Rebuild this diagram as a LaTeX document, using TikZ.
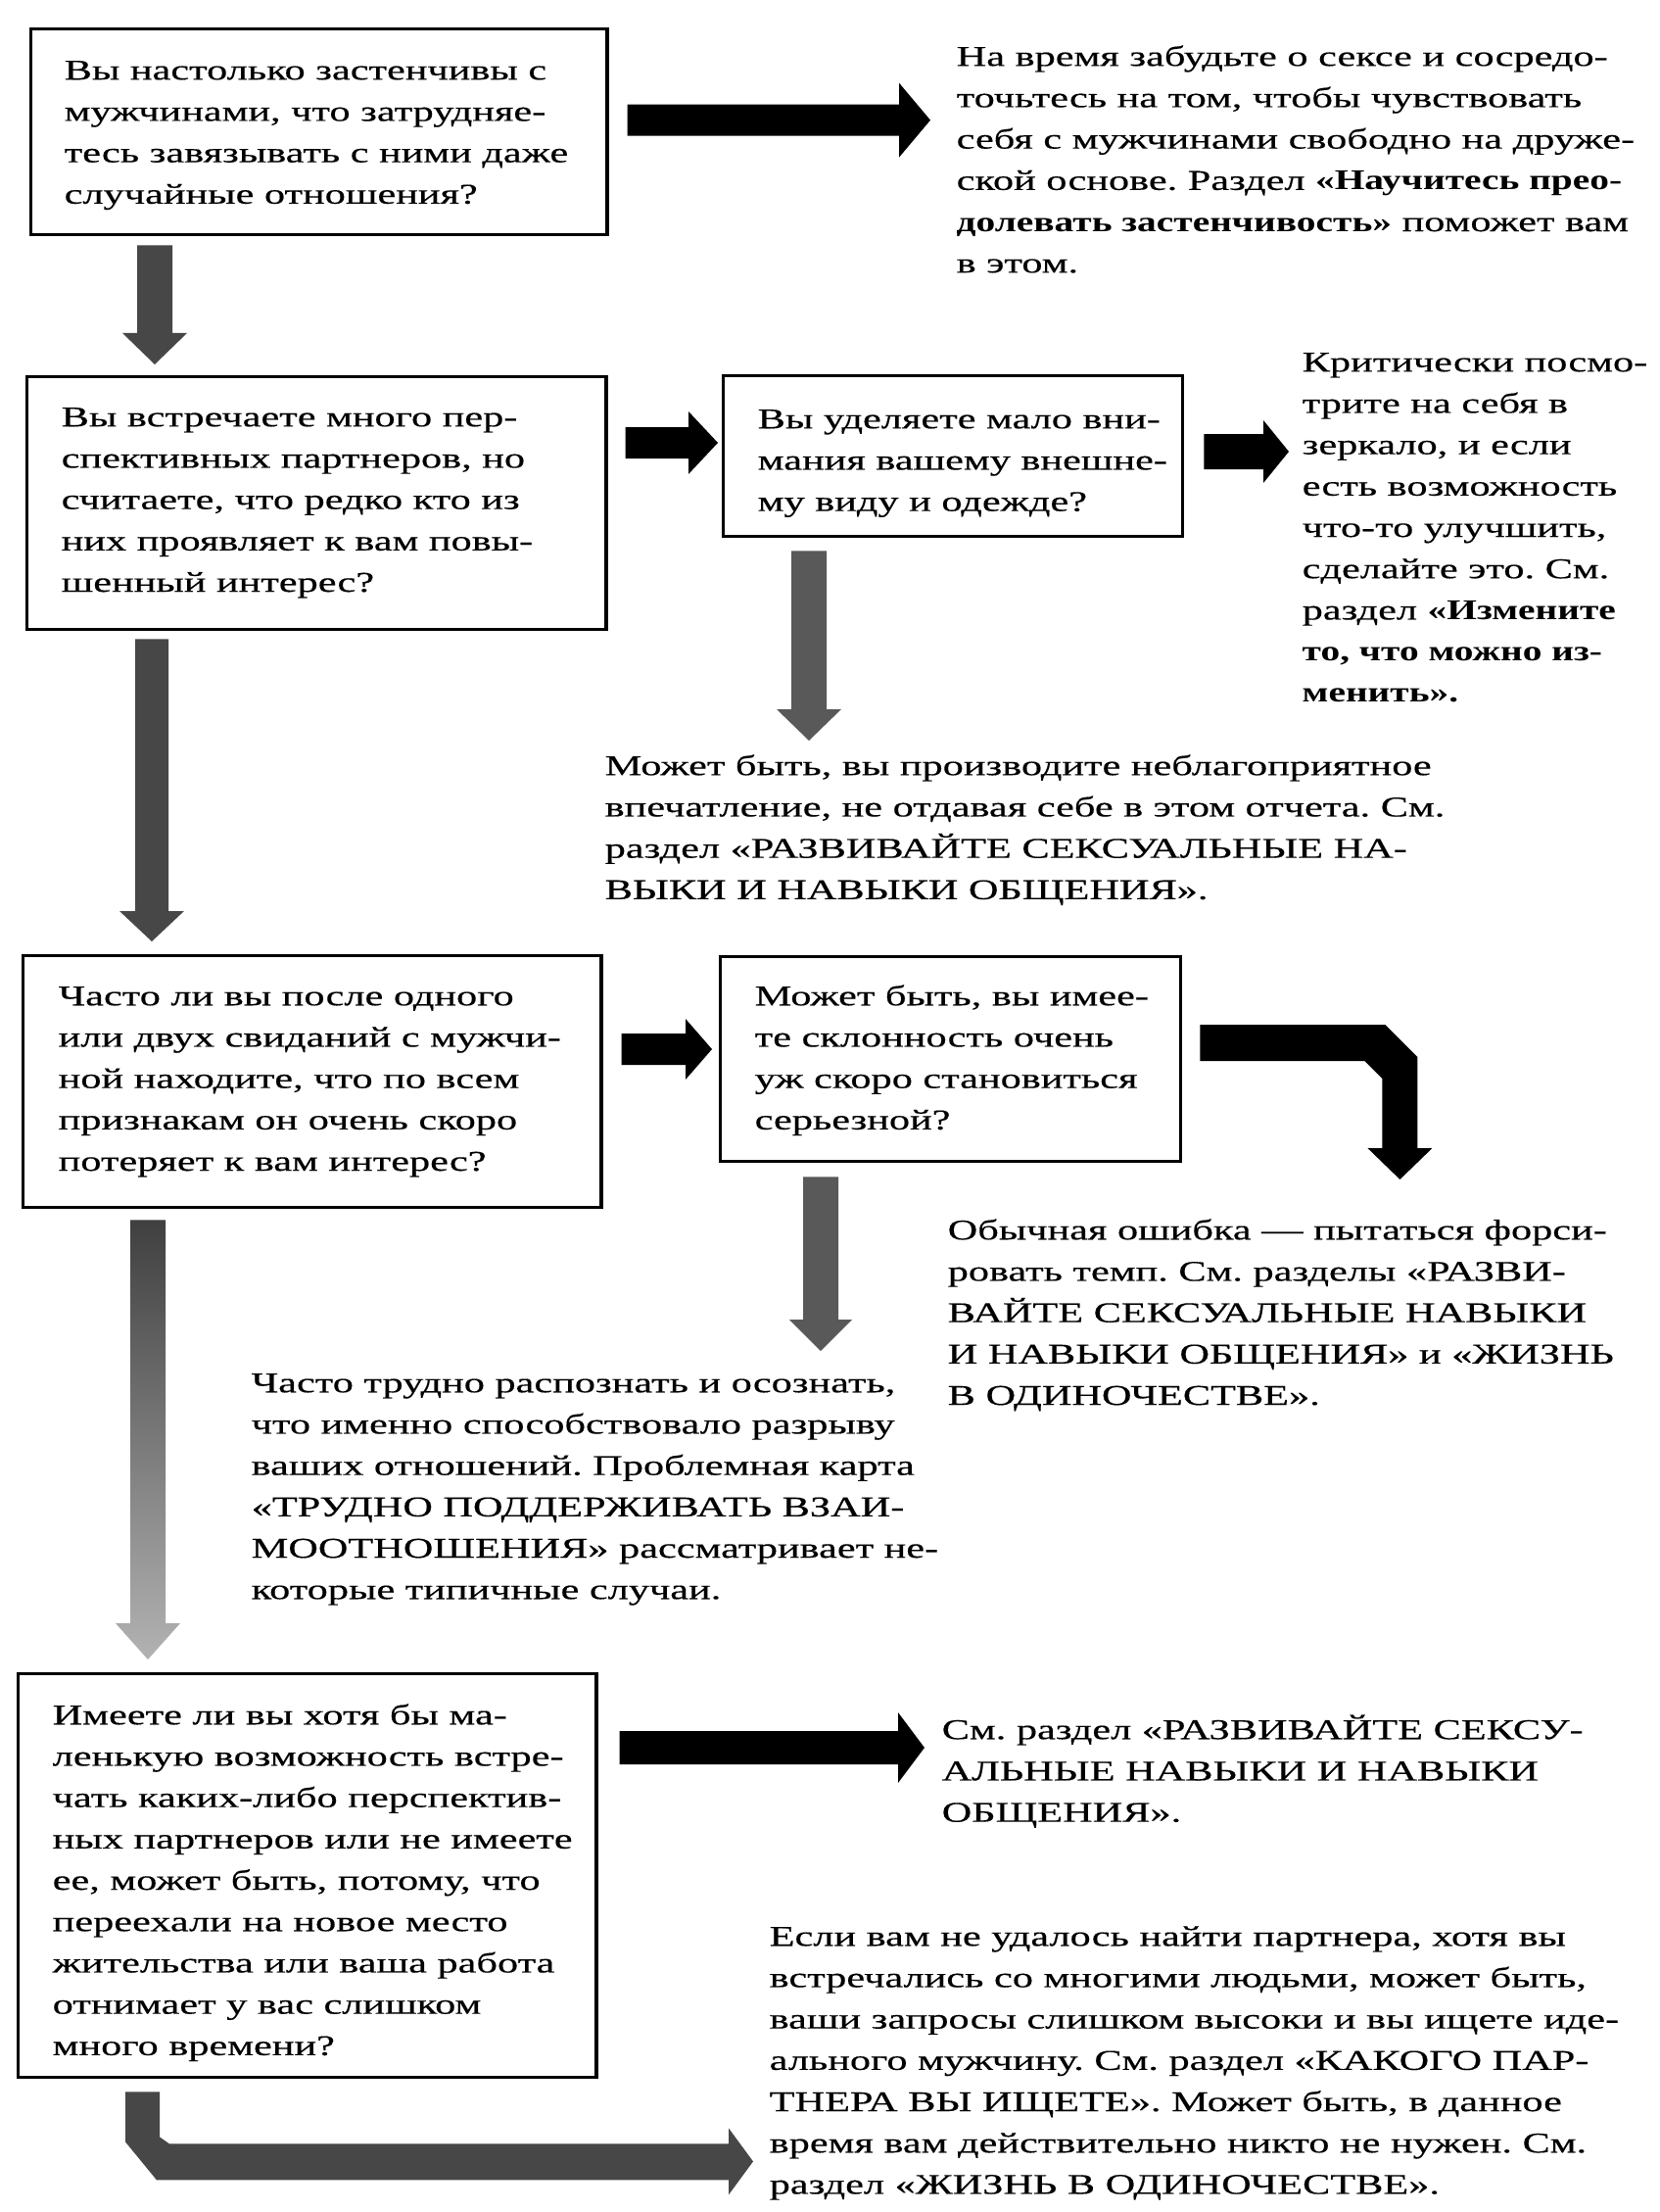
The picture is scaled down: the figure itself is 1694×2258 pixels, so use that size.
\documentclass[tikz,border=0pt]{standalone}
\usepackage{fontspec}
\setmainfont{Liberation Serif}[UprightFeatures={FakeStretch=1.45,FakeBold=0.4},BoldFeatures={FakeStretch=1.35}]
\frenchspacing
\usetikzlibrary{calc}
% straight block arrows: [style]{start}{tip}{shaft half}{head half}{head length}
\newcommand\blockright[6][fill=black]{%
  \path[#1] let \p1=(#2), \p2=(#3) in
   ({\x1},{\y1+#4*0.01cm}) -- ({\x2-#6*0.01cm},{\y1+#4*0.01cm}) -- ({\x2-#6*0.01cm},{\y1+#5*0.01cm})
   -- ({\x2},{\y1}) -- ({\x2-#6*0.01cm},{\y1-#5*0.01cm}) -- ({\x2-#6*0.01cm},{\y1-#4*0.01cm})
   -- ({\x1},{\y1-#4*0.01cm}) -- cycle;}
\newcommand\blockdown[6][fill=black]{%
  \path[#1] let \p1=(#2), \p2=(#3) in
   ({\x1-#4*0.01cm},{\y1}) -- ({\x1-#4*0.01cm},{\y2+#6*0.01cm}) -- ({\x1-#5*0.01cm},{\y2+#6*0.01cm})
   -- ({\x1},{\y2}) -- ({\x1+#5*0.01cm},{\y2+#6*0.01cm}) -- ({\x1+#4*0.01cm},{\y2+#6*0.01cm})
   -- ({\x1+#4*0.01cm},{\y1}) -- cycle;}
\begin{document}
\begin{tikzpicture}[x=0.01cm,y=-0.01cm,
  txt/.style={anchor=north west, inner sep=0pt, align=left, font=\fontsize{8.3}{12}\selectfont},
  qbox/.style={draw, line width=0.9pt, anchor=north west, inner sep=0pt},
  darkgray/.style={fill=black!72},
  midgray/.style={fill=black!65}]
\path[fill=white] (0,0) rectangle (1694,2258);
\useasboundingbox (0,0) rectangle (1694,2258);

% ---------- boxes ----------
\node[qbox, minimum width=5.88cm, minimum height=2.10cm] (b1) at (30,28) {};
\node[qbox, minimum width=5.91cm, minimum height=2.58cm] (b2) at (26,383) {};
\node[qbox, minimum width=4.69cm, minimum height=1.64cm] (b3) at (737,382) {};
\node[qbox, minimum width=5.90cm, minimum height=2.57cm] (b4) at (22,974) {};
\node[qbox, minimum width=4.70cm, minimum height=2.09cm] (b5) at (734,975) {};
\node[qbox, minimum width=5.90cm, minimum height=4.12cm] (b6) at (17,1707) {};

% ---------- box texts ----------
\node[txt] (b1t) at (65,51) {\strut Вы настолько застенчивы с\\мужчинами, что затрудняе-\\тесь завязывать с ними даже\\случайные отношения?\strut};
\node[txt] (b2t) at (62,405) {\strut Вы встречаете много пер-\\спективных партнеров, но\\считаете, что редко кто из\\них проявляет к вам повы-\\шенный интерес?\strut};
\node[txt] (b3t) at (773,407) {\strut Вы уделяете мало вни-\\мания вашему внешне-\\му виду и одежде?\strut};
\node[txt] (b4t) at (59,996) {\strut Часто ли вы после одного\\или двух свиданий с мужчи-\\ной находите, что по всем\\признакам он очень скоро\\потеряет к вам интерес?\strut};
\node[txt] (b5t) at (770,996) {\strut Может быть, вы имее-\\те склонность очень\\уж скоро становиться\\серьезной?\strut};
\node[txt] (b6t) at (53,1730) {\strut Имеете ли вы хотя бы ма-\\ленькую возможность встре-\\чать каких-либо перспектив-\\ных партнеров или не имеете\\ее, может быть, потому, что\\переехали на новое место\\жительства или ваша работа\\отнимает у вас слишком\\много времени?\strut};

% ---------- answer texts ----------
\node[txt] (t1) at (976,37) {\strut На время забудьте о сексе и сосредо-\\точьтесь на том, чтобы чувствовать\\себя с мужчинами свободно на друже-\\ской основе. Раздел \textbf{«Научитесь прео-}\\\textbf{долевать застенчивость»} поможет вам\\в этом.\strut};
\node[txt] (t2) at (1329,349) {\strut Критически посмо-\\трите на себя в\\зеркало, и если\\есть возможность\\что-то улучшить,\\сделайте это. См.\\раздел \textbf{«Измените}\\\textbf{то, что можно из-}\\\textbf{менить».}\strut};
\node[txt] (t3) at (617,761) {\strut Может быть, вы производите неблагоприятное\\впечатление, не отдавая себе в этом отчета. См.\\раздел «РАЗВИВАЙТЕ СЕКСУАЛЬНЫЕ НА-\\ВЫКИ И НАВЫКИ ОБЩЕНИЯ».\strut};
\node[txt] (t4) at (967,1235) {\strut Обычная ошибка — пытаться форси-\\ровать темп. См. разделы «РАЗВИ-\\ВАЙТЕ СЕКСУАЛЬНЫЕ НАВЫКИ\\И НАВЫКИ ОБЩЕНИЯ» и «ЖИЗНЬ\\В ОДИНОЧЕСТВЕ».\strut};
\node[txt] (t5) at (256,1391) {\strut Часто трудно распознать и осознать,\\что именно способствовало разрыву\\ваших отношений. Проблемная карта\\«ТРУДНО ПОДДЕРЖИВАТЬ ВЗАИ-\\МООТНОШЕНИЯ» рассматривает не-\\которые типичные случаи.\strut};
\node[txt] (t6) at (961,1745) {\strut См. раздел «РАЗВИВАЙТЕ СЕКСУ-\\АЛЬНЫЕ НАВЫКИ И НАВЫКИ\\ОБЩЕНИЯ».\strut};
\node[txt] (t7) at (785,1956) {\strut Если вам не удалось найти партнера, хотя вы\\встречались со многими людьми, может быть,\\ваши запросы слишком высоки и вы ищете иде-\\ального мужчину. См. раздел «КАКОГО ПАР-\\ТНЕРА ВЫ ИЩЕТЕ». Может быть, в данное\\время вам действительно никто не нужен. См.\\раздел «ЖИЗНЬ В ОДИНОЧЕСТВЕ».\strut};

% ---------- arrows ----------
\blockright{$(b1.east)+(19,-12)$}{$(t1.north west)+(-26,84)$}{16}{38}{32}
\blockdown[darkgray]{$(b1.south west)+(128,9)$}{$(b2.north west)+(132,-11)$}{18}{33}{32}
\blockright{$(b2.north east)+(18,69)$}{$(b3.north west)+(-4,70)$}{16}{32}{30}
\blockdown[midgray]{$(b3.south west)+(89,13)$}{$(t3.north west)+(209,-5)$}{18}{33}{32}
\blockright{$(b3.north east)+(20,79)$}{$(t2.north west)+(-13,112)$}{18}{32}{26}
\blockdown[darkgray]{$(b2.south west)+(129,8)$}{$(b4.north west)+(133,-13)$}{17}{33}{31}
\blockright{$(b4.north east)+(19,97)$}{$(b5.north west)+(-7,96)$}{16}{31}{27}
\blockdown[midgray]{$(b5.south west)+(104,14)$}{$(t5.north west)+(582,-12)$}{18}{32}{32}
\blockdown[top color=black!75, bottom color=black!30]{$(b4.south west)+(129,11)$}{$(b6.north west)+(131,-13)$}{18}{33}{37}
\blockright{$(b6.north east)+(22,77)$}{$(t6.north west)+(-17,39)$}{17}{36}{27}

% bent arrow box5 -> t4
\coordinate (a8) at ($(b5.north east)+(18,89)$);
\fill[black, shift={(a8)}] (0,-18) -- (189,-18) -- (222,15) -- (222,108) -- (237,108) -- (204,140)
  -- (171,108) -- (186,108) -- (186,37) -- (168,19) -- (0,19) -- cycle;

% bent gray arrow box6 -> t7
\coordinate (a11) at ($(b6.south west)+(111,13)$);
\fill[darkgray, shift={(a11)}] (0,0) -- (35,0) -- (35,46) -- (45,53) -- (616,53) -- (616,37) -- (641,71)
  -- (616,105) -- (616,90) -- (32,90) -- (0,51) -- cycle;
\end{tikzpicture}
\end{document}
